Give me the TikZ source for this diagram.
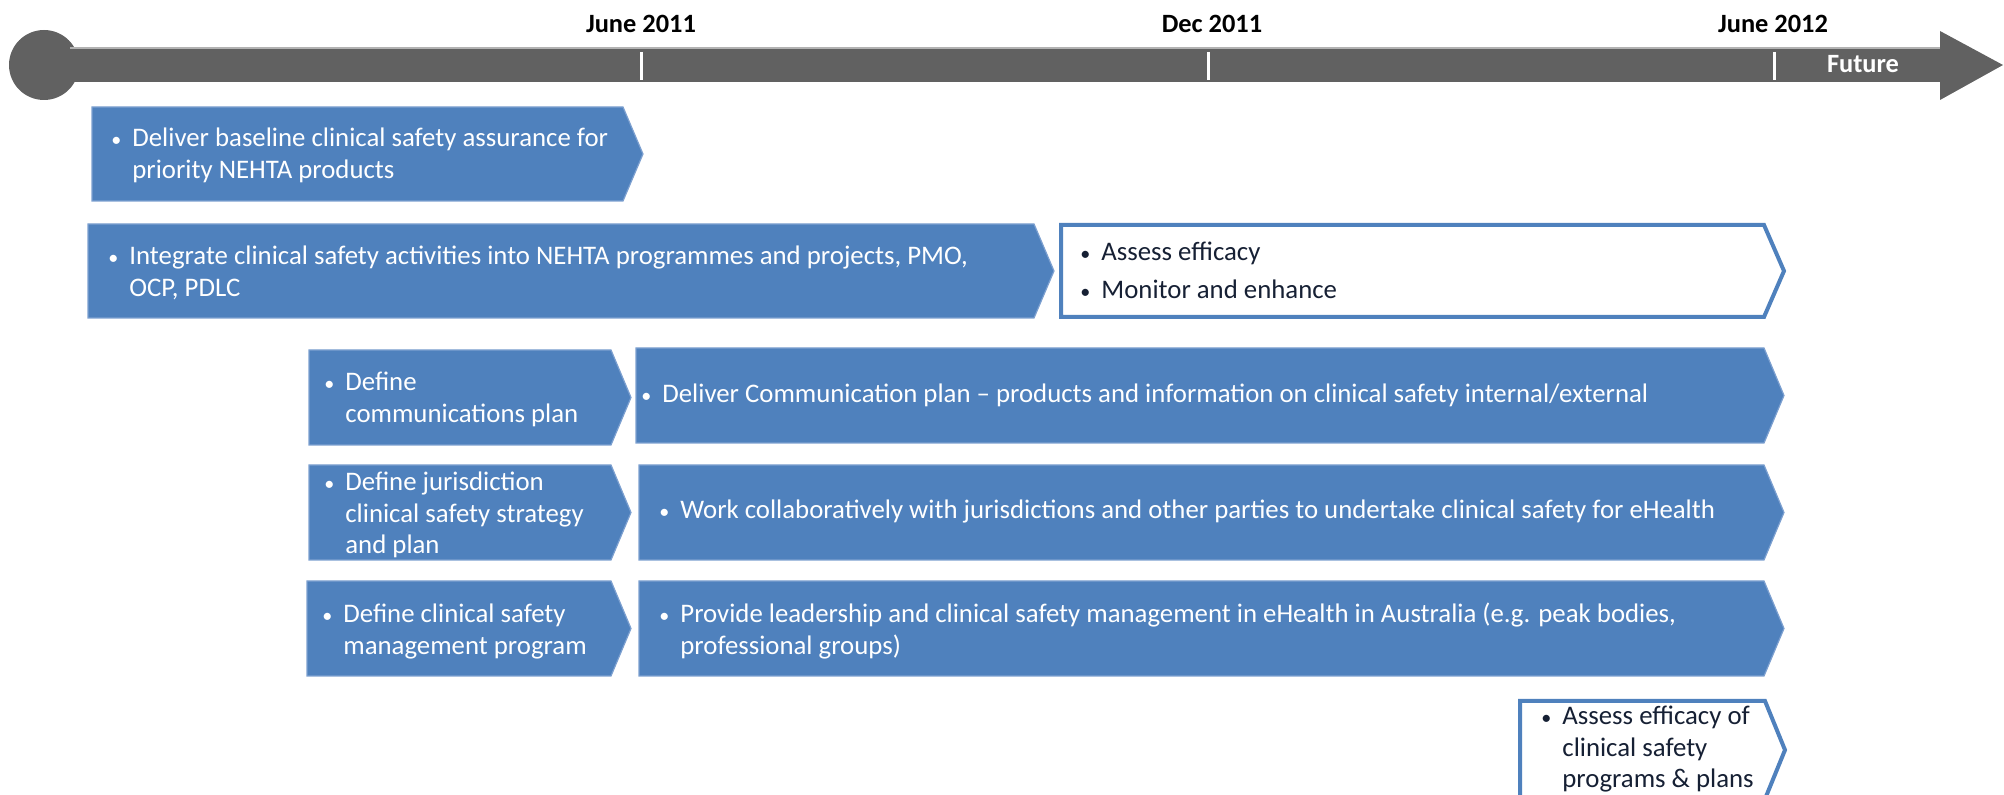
\documentclass[tikz,border=0pt]{standalone}
\usepackage{fontspec}
\setmainfont{Carlito}
\usetikzlibrary{calc,positioning}
\definecolor{barGray}{RGB}{97,97,97}
\definecolor{boxBlue}{RGB}{79,129,189}
\definecolor{boxEdge}{RGB}{125,160,208}
\definecolor{txtDark}{RGB}{22,32,52}

% bullet with hanging lines
\newcommand{\bul}[1]{\makebox[10.5pt][l]{\scalebox{0.75}{\textbullet}}\begin{tabular}[t]{@{}l@{}}#1\end{tabular}}
% box with a pointed right end: [style]{left}{top}{right}{bottom}
\newcommand{\chev}[5][bluebox]{%
  \draw[#1] (#2,#3) -- (#4,#3) -- ({#4+20},{(#3+#5)/2}) -- (#4,#5) -- (#2,#5) -- cycle;}

\tikzset{
  bluebox/.style={fill=boxBlue, draw=boxEdge, line width=0.6pt},
  openbox/.style={fill=white, draw=boxBlue, line width=2pt},
  intext/.style={anchor=west, inner sep=0pt, text=white, align=left,
    font=\fontsize{13.4}{15.8}\selectfont},
  outtext/.style={intext, text=txtDark},
  datelbl/.style={inner sep=0pt, font=\fontsize{13.2}{15}\selectfont\bfseries},
}

\begin{document}
\begin{tikzpicture}[x=0.5pt,y=-0.5pt]
\useasboundingbox (0,0) rectangle (2004,795);

% timeline
\fill[barGray] (44,65) circle [radius=35];
\fill[barGray] (44,48) rectangle (1942,82);
\draw[gray!60, line width=0.6pt] (70,48) -- (1940,48);
\fill[barGray] (1940,31) -- (2003,65) -- (1940,100) -- cycle;
\foreach \x in {641,1208,1774}
  \draw[white, line width=1.5pt] (\x,52) -- (\x,80);
\node[datelbl] (jun11) at (641,24) {June 2011};
\node[datelbl] (dec11) at (1212,24) {Dec 2011};
\node[datelbl] (jun12) at (1773,24) {June 2012};
\node[datelbl, text=white] (future) at (1863,64) {Future};

% row 1
\chev{92}{107}{623}{201}
\node[intext] (baseline) at (111,156)
  {\bul{Deliver baseline clinical safety assurance for\\priority NEHTA products}};

% row 2
\chev{88}{224}{1034}{318}
\node[intext] (integrate) at (108,274)
  {\bul{Integrate clinical safety activities into NEHTA programmes and projects, PMO,\\OCP, PDLC}};
\chev[openbox]{1061}{225}{1764}{317}
\node[outtext] (efficacy) at (1080,273)
  {\bul{Assess efficacy}\\[3pt]\bul{Monitor and enhance}};

% row 3
\chev{309}{350}{611}{445}
\node[intext] (commsplan) at (324,400) {\bul{Define\\communications plan}};
\chev{636}{348}{1764}{443}
\node[intext] (commsdeliver) at (641,396)
  {\bul{Deliver Communication plan – products and information on clinical safety internal/external}};

% row 4
\chev{309}{465}{611}{560}
\node[intext] (jurisplan) at (324,516)
  {\bul{Define jurisdiction\\clinical safety strategy\\and plan}};
\chev{639}{465}{1764}{560}
\node[intext] (juriswork) at (659,512)
  {\bul{Work collaboratively with jurisdictions and other parties to undertake clinical safety for eHealth}};

% row 5
\chev{307}{581}{611}{676}
\node[intext] (mgmtplan) at (322,632)
  {\bul{Define clinical safety\\management program}};
\chev{639}{581}{1764}{676}
\node[intext] (leadership) at (659,632)
  {\bul{Provide leadership and clinical safety management in eHealth in Australia (e.g. peak bodies,\\professional groups)}};

% row 6
\chev[openbox]{1520}{701}{1765}{799}
\node[outtext] (review) at (1541,750)
  {\bul{Assess efficacy of\\clinical safety\\programs \& plans}};
\end{tikzpicture}
\end{document}
